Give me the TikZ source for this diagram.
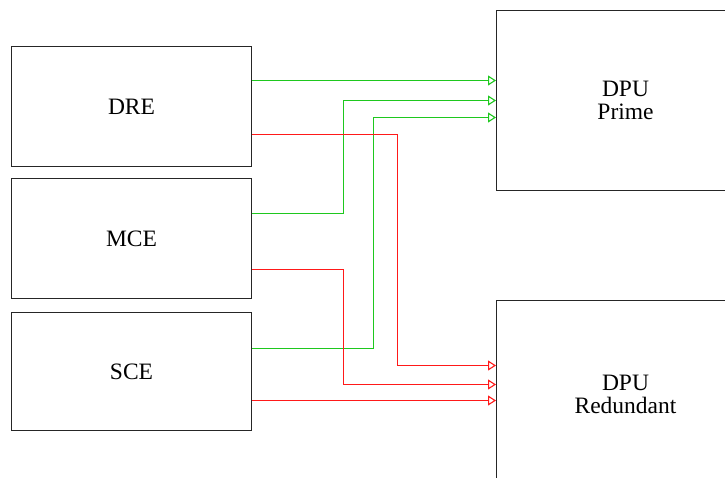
\documentclass[tikz,border=0pt]{standalone}
\usepackage{fontspec}
\setmainfont{Liberation Serif}
\usetikzlibrary{arrows.meta}
\definecolor{sigGreen}{RGB}{30,200,30}
\definecolor{sigRed}{RGB}{255,25,25}
\tikzset{
  unit/.style={draw=black!85, line width=1pt, rectangle, inner sep=0pt,
    align=center, font=\fontsize{23.5}{23}\selectfont},
  srcbox/.style={unit, minimum width=240pt},
  dpubox/.style={unit, minimum width=258pt},
  link/.style={line width=1.5pt, -{Triangle[open, length=8pt, width=10pt, line width=1.1pt]}},
  glink/.style={link, draw=sigGreen},
  rlink/.style={link, draw=sigRed}
}
\begin{document}
\begin{tikzpicture}[x=1pt, y=-1pt]
  \clip (0,0) rectangle (725,477);
  \fill[white] (0,0) rectangle (725,477);

  % source units
  \node[srcbox, minimum height=120pt] (dre) at (131.5,106.5) {DRE};
  \node[srcbox, minimum height=120pt] (mce) at (131.5,238.5) {MCE};
  \node[srcbox, minimum height=118pt] (sce) at (131.5,371.5) {SCE};

  % processing units (extend past the right edge)
  \node[dpubox, minimum height=180pt] (prime) at (625.5,100.5) {DPU\\Prime};
  \node[dpubox, minimum height=188pt] (red) at (625.5,394.5) {DPU\\Redundant};

  % elbow columns
  \coordinate (xa) at (343.5,0);
  \coordinate (xb) at (373.5,0);
  \coordinate (xc) at (397.5,0);

  % signal levels
  \coordinate (yg1) at (0,80.5);
  \coordinate (yg2) at (0,213.5);
  \coordinate (yg3) at (0,348.5);
  \coordinate (yr1) at (0,134.5);
  \coordinate (yr2) at (0,269.5);
  \coordinate (yr3) at (0,400.5);
  \coordinate (yp2) at (0,100.5);
  \coordinate (yp3) at (0,117.5);
  \coordinate (yq1) at (0,365.5);
  \coordinate (yq2) at (0,384.5);

  % prime links
  \draw[glink] (dre.east |- yg1) -- (prime.west |- yg1);
  \draw[glink] (mce.east |- yg2) -- (xa |- yg2) -- (xa |- yp2) -- (prime.west |- yp2);
  \draw[glink] (sce.east |- yg3) -- (xb |- yg3) -- (xb |- yp3) -- (prime.west |- yp3);

  % redundant links
  \draw[rlink] (dre.east |- yr1) -- (xc |- yr1) -- (xc |- yq1) -- (red.west |- yq1);
  \draw[rlink] (mce.east |- yr2) -- (xa |- yr2) -- (xa |- yq2) -- (red.west |- yq2);
  \draw[rlink] (sce.east |- yr3) -- (red.west |- yr3);
\end{tikzpicture}
\end{document}
